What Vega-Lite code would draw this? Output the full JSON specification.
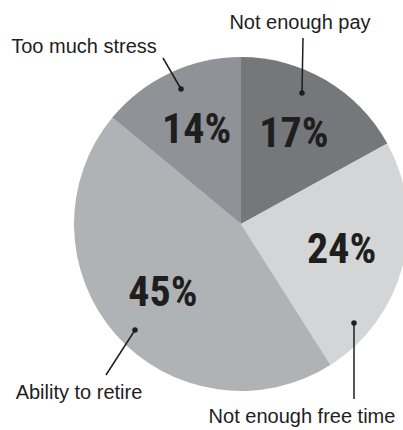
{
  "$schema": "https://vega.github.io/schema/vega-lite/v6.json",
  "width": 324,
  "height": 412,
  "autosize": "none",
  "padding": {"left": 79, "top": 18, "right": 0, "bottom": 0},
  "background": "white",
  "config": {"view": {"stroke": null}},
  "datasets": {
    "slices": [
      {"category": "Not enough pay", "share": 0.17, "rank": 1},
      {"category": "Not enough free time", "share": 0.24, "rank": 2},
      {"category": "Ability to retire", "share": 0.45, "rank": 3},
      {"category": "Too much stress", "share": 0.14, "rank": 4}
    ],
    "callouts": [
      {"category": "Not enough pay", "dotX": 61, "dotY": -131, "endX": 62, "endY": -186, "textX": 59, "textY": -195},
      {"category": "Too much stress", "dotX": -60, "dotY": -135, "endX": -78, "endY": -166, "textX": -157, "textY": -171},
      {"category": "Ability to retire", "dotX": -106, "dotY": 106, "endX": -135, "endY": 151, "textX": -162, "textY": 175},
      {"category": "Not enough free time", "dotX": 113, "dotY": 99, "endX": 113, "endY": 175, "textX": 61, "textY": 199}
    ]
  },
  "layer": [
    {
      "data": {"name": "slices"},
      "mark": {"type": "arc", "radius": 167},
      "encoding": {
        "theta": {"field": "share", "type": "quantitative", "stack": true},
        "order": {"field": "rank", "type": "quantitative"},
        "color": {
          "field": "category",
          "type": "nominal",
          "legend": null,
          "scale": {
            "domain": ["Not enough pay", "Not enough free time", "Ability to retire", "Too much stress"],
            "range": ["#75777b", "#d4d5d7", "#b0b3b6", "#8f9296"]
          }
        }
      }
    },
    {
      "data": {"name": "slices"},
      "mark": {"type": "text", "radius": 104, "font": "Roboto Condensed, Roboto, sans-serif", "fontWeight": "bold", "fontSize": 42, "color": "#1e1e1e", "align": "center", "baseline": "middle"},
      "encoding": {
        "theta": {"field": "share", "type": "quantitative", "stack": true},
        "order": {"field": "rank", "type": "quantitative"},
        "text": {"field": "share", "type": "quantitative", "format": ".0%"}
      }
    },
    {
      "data": {"name": "callouts"},
      "mark": {"type": "rule", "strokeWidth": 1.5, "color": "#1e1e1e"},
      "encoding": {
        "x": {"field": "dotX", "type": "quantitative", "axis": null, "scale": {"domain": [-162, 162], "nice": false, "zero": false}},
        "y": {"field": "dotY", "type": "quantitative", "axis": null, "scale": {"domain": [-206, 206], "nice": false, "zero": false, "reverse": true}},
        "x2": {"field": "endX"},
        "y2": {"field": "endY"}
      }
    },
    {
      "data": {"name": "callouts"},
      "mark": {"type": "circle", "size": 30, "color": "#1e1e1e", "opacity": 1},
      "encoding": {
        "x": {"field": "dotX", "type": "quantitative", "axis": null, "scale": {"domain": [-162, 162], "nice": false, "zero": false}},
        "y": {"field": "dotY", "type": "quantitative", "axis": null, "scale": {"domain": [-206, 206], "nice": false, "zero": false, "reverse": true}}
      }
    },
    {
      "data": {"name": "callouts"},
      "mark": {"type": "text", "font": "Liberation Sans, Arial, sans-serif", "fontSize": 20, "color": "#1e1e1e", "align": "center", "baseline": "alphabetic"},
      "encoding": {
        "x": {"field": "textX", "type": "quantitative", "axis": null, "scale": {"domain": [-162, 162], "nice": false, "zero": false}},
        "y": {"field": "textY", "type": "quantitative", "axis": null, "scale": {"domain": [-206, 206], "nice": false, "zero": false, "reverse": true}},
        "text": {"field": "category", "type": "nominal"}
      }
    }
  ]
}
